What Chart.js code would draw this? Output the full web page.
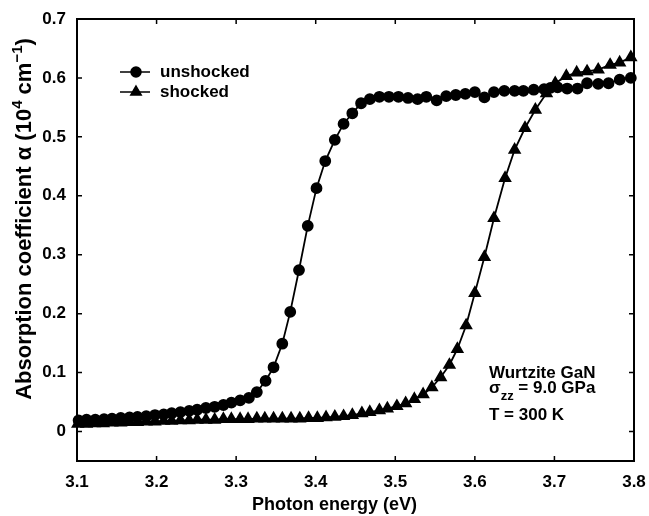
<!DOCTYPE html>
<html>
<head>
<meta charset="utf-8">
<script src="https://cdn.jsdelivr.net/npm/chart.js@4.4.0/dist/chart.umd.min.js"></script>
<style>
  html, body { margin: 0; padding: 0; background: #fff; }
</style>
</head>
<body>
<canvas id="absChart" width="649" height="516"></canvas>
<script>
// --- Data ---
const energyUnshocked = [3.102, 3.112, 3.123, 3.134, 3.144, 3.155, 3.166, 3.176, 3.187, 3.198,
  3.209, 3.219, 3.230, 3.241, 3.251, 3.262, 3.273, 3.284, 3.294, 3.305,
  3.316, 3.326, 3.337, 3.347, 3.358, 3.368, 3.379, 3.390, 3.401, 3.412,
  3.424, 3.435, 3.446, 3.457, 3.468, 3.480, 3.492, 3.504, 3.516, 3.528,
  3.539, 3.552, 3.564, 3.576, 3.588, 3.600, 3.612, 3.624, 3.637, 3.650,
  3.661, 3.674, 3.687, 3.695, 3.704, 3.716, 3.729, 3.741, 3.755, 3.768,
  3.782, 3.796];
const alphaUnshocked = [0.019, 0.020, 0.020, 0.021, 0.022, 0.023, 0.024, 0.025, 0.026, 0.028,
  0.029, 0.031, 0.033, 0.035, 0.037, 0.040, 0.042, 0.045, 0.049, 0.053,
  0.057, 0.067, 0.086, 0.109, 0.149, 0.203, 0.274, 0.349, 0.413, 0.459,
  0.495, 0.522, 0.540, 0.557, 0.564, 0.568, 0.568, 0.568, 0.566, 0.564,
  0.568, 0.562, 0.569, 0.571, 0.573, 0.576, 0.567, 0.576, 0.578, 0.578,
  0.578, 0.580, 0.581, 0.583, 0.584, 0.582, 0.582, 0.591, 0.590, 0.591,
  0.597, 0.600];

const energyShocked = [3.101, 3.112, 3.122, 3.133, 3.144, 3.155, 3.165, 3.176, 3.187, 3.198,
  3.209, 3.219, 3.230, 3.241, 3.251, 3.262, 3.273, 3.284, 3.294, 3.305,
  3.315, 3.326, 3.336, 3.347, 3.358, 3.369, 3.380, 3.391, 3.402, 3.413,
  3.424, 3.435, 3.446, 3.458, 3.468, 3.480, 3.490, 3.502, 3.513, 3.524,
  3.535, 3.546, 3.557, 3.568, 3.578, 3.589, 3.600, 3.612, 3.624, 3.638,
  3.650, 3.663, 3.676, 3.690, 3.701, 3.715, 3.728, 3.741, 3.755, 3.770,
  3.782, 3.796];
const alphaShocked = [0.013, 0.013, 0.014, 0.014, 0.015, 0.015, 0.016, 0.016, 0.017, 0.017,
  0.018, 0.018, 0.019, 0.019, 0.020, 0.020, 0.020, 0.021, 0.021, 0.021,
  0.021, 0.022, 0.022, 0.022, 0.022, 0.022, 0.022, 0.023, 0.023, 0.024,
  0.025, 0.026, 0.028, 0.031, 0.033, 0.036, 0.039, 0.043, 0.048, 0.055,
  0.063, 0.075, 0.092, 0.113, 0.140, 0.180, 0.235, 0.296, 0.362, 0.430,
  0.478, 0.515, 0.546, 0.574, 0.591, 0.603, 0.609, 0.611, 0.614, 0.622,
  0.626, 0.635];

const xTicks = [3.1, 3.2, 3.3, 3.4, 3.5, 3.6, 3.7, 3.8];
const yTicks = [0, 0.1, 0.2, 0.3, 0.4, 0.5, 0.6, 0.7];

const seriesNames = ['unshocked', 'shocked'];
const xTitle = 'Photon energy (eV)';
// y title pieces: [text, superscript?]
const yTitleParts = [['Absorption coefficient α (10', false], ['4', true], [' cm', false], ['−1', true], [')', false]];
const noteLines = ['Wurtzite GaN', 'σ', 'zz', ' = 9.0 GPa', 'T = 300 K'];

const FONT = '"Liberation Sans", Arial, Helvetica, sans-serif';

function toPoints(xs, ys) {
  return xs.map((x, i) => ({ x: x, y: ys[i] }));
}

// Inside tick marks, frame, titles, legend and note (MATLAB style)
const frameAndNotes = {
  id: 'frameAndNotes',
  afterDraw(chart) {
    const ctx = chart.ctx;
    const { left, right, top, bottom } = chart.chartArea;
    const xs = chart.scales.x, ys = chart.scales.y;
    ctx.save();
    ctx.strokeStyle = '#000';
    ctx.lineWidth = 2;
    ctx.strokeRect(left, top, right - left, bottom - top);

    ctx.lineWidth = 1.5;
    const tl = 5;
    xs.ticks.forEach(t => {
      const px = xs.getPixelForValue(t.value);
      ctx.beginPath();
      ctx.moveTo(px, bottom); ctx.lineTo(px, bottom - tl);
      ctx.moveTo(px, top); ctx.lineTo(px, top + tl);
      ctx.stroke();
    });
    ys.ticks.forEach(t => {
      const py = ys.getPixelForValue(t.value);
      ctx.beginPath();
      ctx.moveTo(left, py); ctx.lineTo(left + tl, py);
      ctx.moveTo(right, py); ctx.lineTo(right - tl, py);
      ctx.stroke();
    });

    ctx.fillStyle = '#000';

    // x title
    ctx.font = 'bold 18px ' + FONT;
    ctx.textAlign = 'center';
    ctx.textBaseline = 'middle';
    ctx.fillText(xTitle, (left + right) / 2 - 21, 505);

    // y title, rotated, with superscripts
    ctx.save();
    ctx.translate(23, 219);
    ctx.rotate(-Math.PI / 2);
    ctx.textAlign = 'left';
    ctx.textBaseline = 'alphabetic';
    const big = 'bold 22px ' + FONT, small = 'bold 15px ' + FONT;
    let total = 0;
    yTitleParts.forEach(([txt, sup]) => { ctx.font = sup ? small : big; total += ctx.measureText(txt).width; });
    let cx = -total / 2;
    yTitleParts.forEach(([txt, sup]) => {
      ctx.font = sup ? small : big;
      ctx.fillText(txt, cx, sup ? -1 : 8);
      cx += ctx.measureText(txt).width;
    });
    ctx.restore();

    // legend
    ctx.font = 'bold 17px ' + FONT;
    ctx.textBaseline = 'middle';
    ctx.textAlign = 'left';
    const legY = [72, 92];
    const styles = ['circle', 'triangle'];
    const radii = [5, 6];
    seriesNames.forEach((name, i) => {
      ctx.lineWidth = 1.5;
      ctx.beginPath();
      ctx.moveTo(120, legY[i]); ctx.lineTo(150, legY[i]);
      ctx.stroke();
      Chart.helpers.drawPoint(ctx, { pointStyle: styles[i], radius: radii[i], rotation: 0, borderWidth: 1 }, 136, legY[i]);
      ctx.fill();
      ctx.fillText(name, 160, legY[i]);
    });

    // note
    ctx.textBaseline = 'alphabetic';
    ctx.font = 'bold 17px ' + FONT;
    ctx.fillText(noteLines[0], 489, 378);
    ctx.fillText(noteLines[1], 489, 393);
    const sw = ctx.measureText(noteLines[1]).width;
    ctx.font = 'bold 13px ' + FONT;
    ctx.fillText(noteLines[2], 489 + sw, 400);
    const zw = ctx.measureText(noteLines[2]).width;
    ctx.font = 'bold 17px ' + FONT;
    ctx.fillText(noteLines[3], 489 + sw + zw, 393);
    ctx.fillText(noteLines[4], 489, 420);
    ctx.restore();
  }
};

new Chart(document.getElementById('absChart'), {
  type: 'line',
  data: {
    datasets: [
      {
        label: seriesNames[0],
        data: toPoints(energyUnshocked, alphaUnshocked),
        borderColor: '#000',
        backgroundColor: '#000',
        borderWidth: 1.8,
        pointStyle: 'circle',
        pointRadius: 5,
        pointBackgroundColor: '#000',
        pointBorderColor: '#000',
        tension: 0
      },
      {
        label: seriesNames[1],
        data: toPoints(energyShocked, alphaShocked),
        borderColor: '#000',
        backgroundColor: '#000',
        borderWidth: 1.8,
        pointStyle: 'triangle',
        pointRadius: 6,
        pointBackgroundColor: '#000',
        pointBorderColor: '#000',
        tension: 0
      }
    ]
  },
  options: {
    responsive: false,
    animation: false,
    clip: false,
    layout: { padding: { top: 19, right: 15, left: 0, bottom: 0 } },
    plugins: {
      legend: { display: false },
      tooltip: { enabled: false }
    },
    scales: {
      x: {
        type: 'linear',
        min: 3.1,
        max: 3.8,
        afterBuildTicks: s => { s.ticks = xTicks.map(v => ({ value: v })); },
        afterFit: s => { s.height = 55; },
        grid: { display: false },
        border: { display: false },
        ticks: {
          color: '#000',
          padding: 3,
          maxRotation: 0,
          font: { family: FONT, size: 17, weight: 'bold' },
          callback: v => v.toFixed(1)
        }
      },
      y: {
        min: -0.05,
        max: 0.7,
        afterBuildTicks: s => { s.ticks = yTicks.map(v => ({ value: v })); },
        afterFit: s => { s.width = 77; },
        grid: { display: false },
        border: { display: false },
        ticks: {
          color: '#000',
          padding: 3,
          font: { family: FONT, size: 17, weight: 'bold' },
          callback: v => (v === 0 ? '0' : v.toFixed(1))
        }
      }
    }
  },
  plugins: [frameAndNotes]
});
</script>
</body>
</html>
